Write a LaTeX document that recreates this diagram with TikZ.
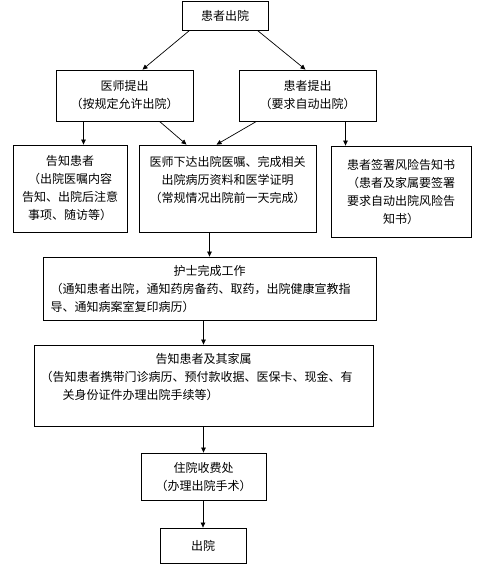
\documentclass[tikz,border=0pt]{standalone}
\usepackage{fontspec}
\setmainfont{Noto Sans CJK SC}
\usepackage{tikz}
\usetikzlibrary{arrows.meta,calc}

\begin{document}
\begin{tikzpicture}[x=1pt,y=-1pt,
  box/.style={draw, line width=0.8pt, align=center, inner sep=3pt,
    font=\fontsize{12}{18}\selectfont},
  arr/.style={line width=0.7pt, -{Triangle[length=5pt,width=4.5pt]}}]
\useasboundingbox (0,0) rectangle (481,567);
% top level
\node[box, minimum width=86, minimum height=29] (top) at (225,15.5) {患者出院};
\node[box, minimum width=137, minimum height=51] (docL) at (124.5,95.5)
  {医师提出\\（按规定允许出院）};
\node[box, minimum width=137, minimum height=51] (patR) at (307.5,95.5)
  {患者提出\\（要求自动出院）};
% third row
\node[box, minimum width=114, minimum height=87] (tell) at (70,188.5)
  {告知患者\\（出院医嘱内容\\告知、出院后注意\\事项、随访等）};
\node[box, minimum width=177, minimum height=87] (order) at (227.5,188.5)
  {医师下达出院医嘱、完成相关\\出院病历资料和医学证明\\（常规情况出院前一天完成）\\~};
\node[box, minimum width=140, minimum height=91] (sign) at (401,191.5)
  {患者签署风险告知书\\（患者及家属要签署\\要求自动出院风险告\\知书）};
% main chain
\node[box, align=left, text width=318, minimum width=333, minimum height=63] (nurse) at (209.5,288.5)
  {\makebox[318pt]{护士完成工作}\\
   （通知患者出院，通知药房备药、取药，出院健康宣教指\\
   导、通知病案室复印病历）};
\node[box, align=left, text width=326, minimum width=339, minimum height=81] (family) at (203.5,385.5)
  {\makebox[326pt]{告知患者及其家属}\\
   （告知患者携带门诊病历、预付款收据、医保卡、现金、有\\
   \hspace*{22pt}关身份证件办理出院手续等）\\~};
\node[box, minimum width=125, minimum height=47] (fee) at (203.5,476.5)
  {住院收费处\\（办理出院手术）};
\node[box, minimum width=86, minimum height=35] (out) at (203,545.5) {出院};
% connectors
\draw[arr] ([xshift=8]top.south west) -- ([xshift=18]docL.north);
\draw[arr] ([xshift=-11]top.south east) -- ([xshift=-2]patR.north);
\draw[arr] ([xshift=-41]docL.south) -- ([xshift=-41]docL.south |- tell.north);
\draw[arr] ([xshift=35]docL.south) -- ([xshift=-41]order.north);
\draw[arr] ([xshift=-51]patR.south) -- ([xshift=-11]order.north);
\draw[arr] ([xshift=38]patR.south) -- ([xshift=38]patR.south |- sign.north);
\draw[arr] (nurse.north |- order.south) -- (nurse.north);
\foreach \a/\b in {nurse/family, family/fee, fee/out}
  \draw[arr] (\b.north |- \a.south) -- (\b.north);
\end{tikzpicture}
\end{document}
